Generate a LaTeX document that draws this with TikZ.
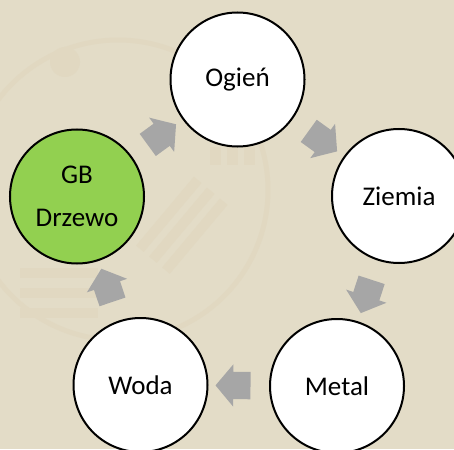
\documentclass[tikz,border=0pt]{standalone}
\usepackage{fontspec}
\setmainfont{Carlito}
\usepackage{tikz}
\usetikzlibrary{shapes.arrows}

\definecolor{paper}{HTML}{E3DCC7}
\definecolor{paperdark}{HTML}{E1D8C1}
\definecolor{leafgreen}{HTML}{92D050}
\definecolor{arrowgray}{HTML}{A6A6A6}

\tikzset{
  elem/.style={circle, draw=black, line width=2pt, fill=white, minimum size=134pt,
    inner sep=0pt, align=center, font=\fontsize{27}{43}\selectfont},
  cyclearrow/.style={single arrow, fill=arrowgray, draw=none, inner xsep=0pt,
    inner ysep=13.5pt, minimum height=35pt, single arrow head extend=7.5pt,
    single arrow tip angle=100, sloped, allow upside down},
}

\begin{document}
\begin{tikzpicture}[x=1pt,y=-1pt]
  \useasboundingbox (0,0) rectangle (454,449);
  \clip (0,0) rectangle (454,449);
  \fill[paper] (0,0) rectangle (454,449);
  % faint background pattern
  \begin{scope}[paperdark]
    \draw[line width=5pt] (118,190) circle (150);
    \fill (65,62) circle (15);
    \foreach \i in {0,1,2}
      \fill (210+\i*17,147) rectangle ++(11,18);
    \foreach \i in {0,1,2}
      \fill[rotate around={50:(178,222)}] (133,205+\i*17) rectangle ++(90,10);
    \foreach \i in {0,1,2}
      \fill (20,268+\i*20) rectangle ++(78,10);
  \end{scope}

  \node[elem] (ogien) at (237.5,79.5) {Ogień};
  \node[elem] (ziemia) at (399,196) {Ziemia};
  \node[elem] (metal) at (337,386) {Metal};
  \node[elem] (woda) at (140.5,385) {Woda};
  \node[elem, fill=leafgreen] (drzewo) at (77,196.5) {GB\\Drzewo};

  \path (drzewo) -- node[cyclearrow] (a1) {} (ogien);
  \path (ogien) -- node[cyclearrow] (a2) {} (ziemia);
  \path (ziemia) -- node[cyclearrow] (a3) {} (metal);
  \path (metal) -- node[cyclearrow] (a4) {} (woda);
  \path (woda) -- node[cyclearrow] (a5) {} (drzewo);
\end{tikzpicture}
\end{document}
